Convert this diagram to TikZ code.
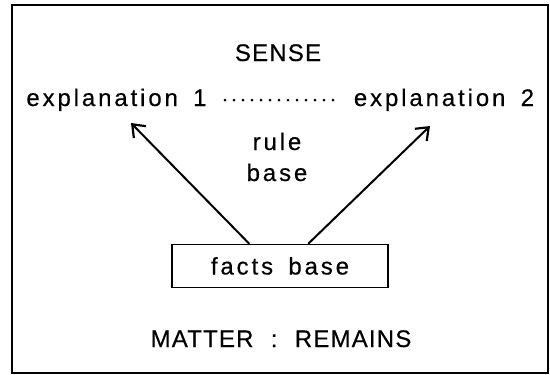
\documentclass[tikz,border=0pt]{standalone}
\usepackage{fontspec}
\setmainfont{Liberation Sans}
\newfontfamily\capsfont[LetterSpace=5,WordSpace=2.2,FakeBold=0.4]{Liberation Sans}
\newfontfamily\lowfont[LetterSpace=12,WordSpace=1.6,FakeBold=0.4]{Liberation Sans}
\usetikzlibrary{arrows.meta,calc}
\begin{document}
\begin{tikzpicture}[x=1pt,y=-1pt,
  caps/.style={font=\capsfont\fontsize{24}{32}\selectfont, inner sep=0pt, anchor=base},
  low/.style={font=\lowfont\fontsize{24}{32}\selectfont, inner sep=0pt, anchor=base},
  box/.style={draw, line width=1.5pt, minimum width=216pt, minimum height=43pt, inner sep=0pt},
  arr/.style={line width=2pt, -{Straight Barb[length=11pt,width=17pt,line width=2.2pt]}},
  dots/.style={line width=3pt, line cap=round, dash pattern=on 0pt off 9pt}]
\useasboundingbox (0,0) rectangle (550,375);
\draw[line width=1.3pt] (12,5) rectangle (548,373);
\node[caps] (sense) at (278,61) {SENSE};
\node[low] (e1) at (116.5,106) {explanation 1};
\node[low] (e2) at (444,106) {explanation 2};
\node[low] (rule) at (277,150) {rule};
\node[low] (base) at (277,181) {base};
\node[box] (fb) at (280,266) {};
\node[low] (fbt) at (280,274.5) {facts base};
\node[caps] (matter) at (281,347) {MATTER : REMAINS};
\coordinate (t1) at (131,123);
\coordinate (t2) at (430,126);
\coordinate (d1) at (225,100);
\coordinate (d2) at (333.1,100);
\draw[dots] (d1) -- (d2);
\draw[arr] ($(fb.north west)+(78,0)$) -- (t1);
\draw[arr] ($(fb.north west)+(137,0)$) -- (t2);
\end{tikzpicture}
\end{document}
